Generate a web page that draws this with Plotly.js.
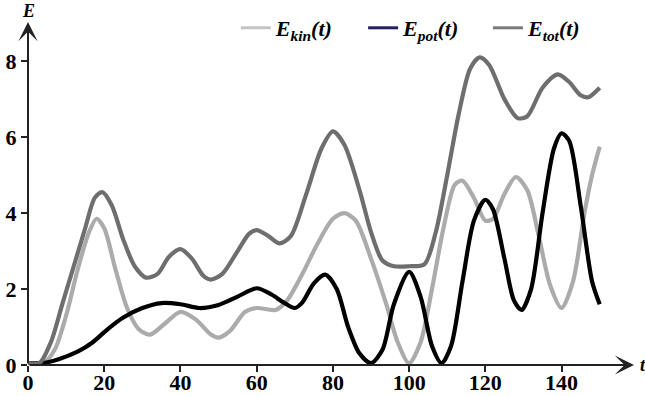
<!DOCTYPE html>
<html>
<head>
<meta charset="utf-8">
<script src="https://cdn.plot.ly/plotly-3.0.1.min.js"></script>
<style>html,body{margin:0;padding:0;background:#fff;}#chart{width:645px;height:396px;}</style>
</head>
<body>
<div id="chart"></div>
<script>
// Data
var tKin = [0, 4, 7, 10, 13, 16, 18, 20, 23, 26, 29, 32, 36, 40, 44, 48, 50, 53, 57, 60, 65, 68, 72, 76, 80, 83, 86, 90, 94, 97, 100, 103, 106, 109, 112, 114, 117, 120, 122, 125, 128, 131, 134, 137, 140, 143, 146, 148, 150];
var eKin = [0.05, 0.05, 0.4, 1.3, 2.5, 3.5, 3.85, 3.6, 2.5, 1.5, 0.95, 0.8, 1.1, 1.4, 1.2, 0.8, 0.72, 0.9, 1.4, 1.5, 1.45, 1.7, 2.4, 3.2, 3.85, 4.0, 3.8, 2.8, 1.6, 0.6, 0.05, 0.6, 2.0, 3.6, 4.75, 4.85, 4.4, 3.8, 3.85, 4.5, 4.95, 4.6, 3.4, 2.1, 1.5, 2.2, 4.0, 5.0, 5.75];

var tPot = [0, 4, 8, 13, 17, 21, 25, 30, 35, 40, 45, 50, 55, 60, 64, 67, 70, 72, 75, 78, 81, 84, 87, 90, 93, 96, 100, 103, 106, 108.5, 111, 114, 117, 120, 122, 125, 127.5, 129.5, 132, 135, 138, 140, 142, 145, 148, 150];
var ePot = [0.05, 0.05, 0.15, 0.35, 0.6, 0.95, 1.25, 1.5, 1.63, 1.6, 1.5, 1.58, 1.8, 2.02, 1.85, 1.65, 1.5, 1.65, 2.15, 2.38, 2.0, 1.0, 0.3, 0.05, 0.4, 1.6, 2.45, 1.8, 0.5, 0.05, 0.5, 2.2, 3.8, 4.35, 4.1, 2.8, 1.7, 1.45, 2.0, 4.0, 5.7, 6.1, 5.9, 4.2, 2.2, 1.6];

var tTot = [0, 3, 6, 9, 12, 15, 17.5, 19.5, 22, 25, 28, 31, 34, 37, 40, 43, 46, 48, 51, 55, 58, 60, 63, 66, 69, 73, 77, 80, 83, 87, 90, 93, 96, 100, 104, 107, 110, 113, 116, 118.5, 121, 125, 128.5, 131, 135, 139, 142, 145, 147, 150];
var eTot = [0.05, 0.05, 0.6, 1.6, 2.6, 3.6, 4.4, 4.55, 4.2, 3.3, 2.6, 2.3, 2.4, 2.85, 3.05, 2.8, 2.35, 2.25, 2.4, 3.0, 3.45, 3.55, 3.4, 3.2, 3.4, 4.5, 5.7, 6.15, 5.8, 4.6, 3.5, 2.75, 2.6, 2.6, 2.65, 3.5, 5.0, 6.6, 7.8, 8.1, 7.9, 7.0, 6.5, 6.55, 7.3, 7.65, 7.45, 7.1, 7.05, 7.3];

var xTicks = [0, 20, 40, 60, 80, 100, 120, 140];
var yTicks = [0, 2, 4, 6, 8];
var names = ['<b><i>E<sub>kin</sub>(t)</i></b>', '<b><i>E<sub>pot</sub>(t)</i></b>', '<b><i>E<sub>tot</sub>(t)</i></b>'];

var W = 4.2;
var traces = [
  {x: tKin, y: eKin, mode: 'lines', line: {color: '#ababab', width: W, shape: 'spline', smoothing: 0.8}, name: names[0], showlegend: false},
  {x: tPot, y: ePot, mode: 'lines', line: {color: '#000000', width: W, shape: 'spline', smoothing: 0.8}, name: names[1], showlegend: false},
  {x: tTot, y: eTot, mode: 'lines', line: {color: '#6e6e6e', width: W, shape: 'spline', smoothing: 0.8}, name: names[2], showlegend: false},
  // legend entries
  {x: [null], y: [null], mode: 'lines', line: {color: '#c4c4c4', width: 3}, name: names[0], legend: 'legend'},
  {x: [null], y: [null], mode: 'lines', line: {color: '#1f2060', width: 3}, name: names[1], legend: 'legend2'},
  {x: [null], y: [null], mode: 'lines', line: {color: '#7a7a7a', width: 3}, name: names[2], legend: 'legend3'}
];

var serif = 'Liberation Serif, Times New Roman, serif';
function leg(x) {
  return {orientation: 'h', x: x, xanchor: 'left', y: 0.9825, yanchor: 'middle',
          font: {family: serif, size: 22, color: '#000'}, bgcolor: 'rgba(0,0,0,0)', itemwidth: 30};
}
var layout = {
  width: 645, height: 396,
  margin: {l: 28, r: 11, t: 22, b: 31, pad: 0, autoexpand: false},
  paper_bgcolor: '#fff', plot_bgcolor: '#fff',
  showlegend: true,
  legend: leg(0.343),
  legend2: leg(0.553),
  legend3: leg(0.759),
  xaxis: {range: [0, 159], tickvals: xTicks, ticktext: xTicks.map(String), ticks: 'outside', ticklen: 6, tickwidth: 2, tickcolor: '#222',
          showgrid: false, zeroline: false, showline: false, automargin: false, ticklabelstandoff: -8,
          tickfont: {family: serif, size: 22, color: '#000', weight: 'bold'}},
  yaxis: {range: [0, 9.03], tickvals: yTicks, ticktext: yTicks.map(String), ticks: 'outside', ticklen: 6, tickwidth: 2, tickcolor: '#222',
          showgrid: false, zeroline: false, showline: false, automargin: false,
          tickfont: {family: serif, size: 22, color: '#000', weight: 'bold'}},
  annotations: [
    {x: 159, y: 0, ax: 0, ay: 0, xref: 'x', yref: 'y', axref: 'x', ayref: 'y', text: '', showarrow: true,
     arrowhead: 3, arrowsize: 1.6, arrowwidth: 2, arrowcolor: '#222'},
    {x: 0, y: 9.03, ax: 0, ay: 0, xref: 'x', yref: 'y', axref: 'x', ayref: 'y', text: '', showarrow: true,
     arrowhead: 3, arrowsize: 1.6, arrowwidth: 2, arrowcolor: '#222'},
    {x: 0, y: 1, xref: 'paper', yref: 'paper', yshift: -1, text: '<b><i>E</i></b>', showarrow: false,
     font: {family: serif, size: 18, color: '#000'}, xanchor: 'center', yanchor: 'bottom'},
    {x: 1, y: 0, xref: 'paper', yref: 'paper', xshift: 4, text: '<b><i>t</i></b>', showarrow: false,
     font: {family: serif, size: 18, color: '#000'}, xanchor: 'left', yanchor: 'middle'}
  ]
};

Plotly.newPlot('chart', traces, layout, {displayModeBar: false, staticPlot: true});
</script>
</body>
</html>
